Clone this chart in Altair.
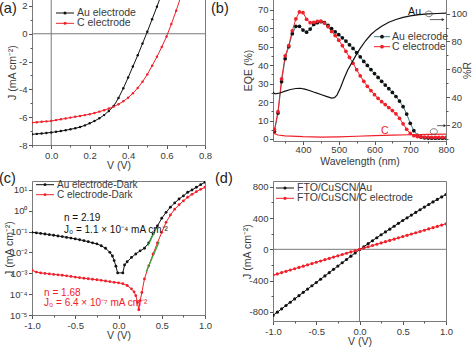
import altair as alt
import pandas as pd

FONT = "Liberation Sans"
INK = "#3a3a3a"
FRAME = "#7a7a7a"
BLACK = "#111111"
RED = "#f0202a"
GREEN = "#2fa83a"
TEAL = "#3d7f8a"

# ---------------- (a) J-V under illumination ----------------
a_v_au = [-0.100, -0.075, -0.050, -0.025, 0.000, 0.025, 0.050, 0.075, 0.100, 0.125,
          0.150, 0.175, 0.200, 0.225, 0.250, 0.275, 0.300, 0.325, 0.350, 0.375,
          0.400, 0.425, 0.450, 0.475, 0.500, 0.525, 0.550, 0.575]
a_j_au = [-7.23, -7.20, -7.17, -7.13, -7.10, -7.05, -7.00, -6.94, -6.87, -6.80,
          -6.71, -6.59, -6.44, -6.28, -6.08, -5.85, -5.55, -5.20, -4.62, -3.92,
          -3.15, -2.35, -1.55, -0.70, 0.15, 1.05, 1.95, 2.90]
a_v_c = [-0.100, -0.075, -0.050, -0.025, 0.000, 0.025, 0.050, 0.075, 0.100, 0.125,
         0.150, 0.175, 0.200, 0.225, 0.250, 0.275, 0.300, 0.325, 0.350, 0.375,
         0.400, 0.425, 0.450, 0.475, 0.500, 0.525, 0.550, 0.575, 0.600, 0.625,
         0.650, 0.675]
a_j_c = [-6.39, -6.36, -6.33, -6.30, -6.27, -6.21, -6.15, -6.09, -6.03, -5.97,
         -5.91, -5.85, -5.79, -5.70, -5.60, -5.50, -5.38, -5.24, -5.07, -4.86,
         -4.60, -4.28, -3.90, -3.45, -2.92, -2.30, -1.65, -0.95, -0.20, 0.70,
         1.65, 2.70]
a_series = ["Au electrode", "C electrode"]

# ---------------- (b) EQE and reflectance ----------------
b_wl = [320, 330, 340, 350, 360, 370, 380, 390, 400, 410, 420, 430, 440, 450, 460,
        470, 480, 490, 500, 510, 520, 530, 540, 550, 560, 570, 580, 590, 600, 610,
        620, 630, 640, 650, 660, 670, 680, 690, 700, 710, 720, 730, 740, 750, 760,
        770, 780, 790, 800]
b_eqe_au = [4, 14, 31, 43.5, 50, 57, 61, 61, 59, 57.8, 59.5, 62, 63, 63.5, 63,
            61.5, 59.8, 58, 56.5, 54.8, 53, 51, 49, 46.8, 44.5, 42, 39.8, 37.6, 35.4, 33.3,
            31.2, 29.2, 27.2, 25.2, 23, 20.5, 17.5, 13.5, 8.5, 4.5, 2, 1, 0.6, 0.5, 0.4,
            0.4, 0.4, 0.4, 0.4]
b_eqe_c = [5, 14.8, 32.5, 45, 50.5, 58.6, 65, 68.8, 68.4, 64.8, 63, 63.2, 63.7, 63.8, 62.8,
           60.8, 58.2, 56, 53.5, 50.5, 47.5, 44.2, 41, 37.5, 34.2, 31.2, 28.5, 26.2, 24, 22,
           20.2, 18.6, 17, 15.4, 13.6, 11.2, 8.2, 5.2, 3, 1.8, 1.3, 1.1, 1.0, 1.0, 0.9,
           0.9, 0.9, 0.9, 0.9]
b_series = ["Au elecrode", "C electrode"]

b_r_wl_au = [316, 322, 335, 350, 365, 380, 392, 405, 420, 435, 450, 465, 480, 488, 495,
             505, 515, 525, 537, 548, 560, 575, 590, 605, 620, 640, 660, 680, 700, 725,
             750, 775, 800]
b_r_au = [43.5, 42.3, 43, 44.3, 45.5, 46.2, 46.4, 45.8, 44.6, 43.2, 41.9, 40.6, 39.3, 39.6, 41.5,
          47, 53.5, 59.5, 65, 70, 75, 80.5, 85, 88.3, 91, 93.8, 95.8, 97.3, 98.4, 99.3,
          99.8, 100.1, 100.3]
b_r_wl_c = [316, 320, 330, 350, 400, 450, 500, 550, 600, 650, 700, 750, 800]
b_r_c = [16.4, 13.8, 12.8, 12.2, 11.6, 11.3, 11.5, 11.9, 12.3, 12.7, 13.0, 13.3, 13.5]

# ---------------- (c) dark J-V, log scale ----------------
c_v_au = [-1.00, -0.95, -0.90, -0.85, -0.80, -0.75, -0.70, -0.65, -0.60, -0.55,
          -0.50, -0.45, -0.40, -0.35, -0.30, -0.25, -0.20, -0.15, -0.10, -0.07,
          -0.05, -0.03, -0.01, 0.05, 0.07, 0.10, 0.15, 0.20, 0.25, 0.30,
          0.35, 0.40, 0.45, 0.50, 0.55, 0.60, 0.65, 0.70, 0.75, 0.80,
          0.85, 0.90, 0.95, 1.00]
c_j_au = [0.093, 0.088, 0.082, 0.077, 0.072, 0.067, 0.062, 0.058, 0.053, 0.049,
          0.045, 0.041, 0.037, 0.033, 0.029, 0.026, 0.021, 0.016, 0.0102, 0.0068,
          0.0041, 0.0022, 0.00105, 0.00105, 0.0025, 0.0036, 0.0058, 0.0085, 0.012, 0.016,
          0.029, 0.078, 0.19, 0.44, 0.85, 1.5, 2.4, 3.7, 5.2, 7.8,
          10, 13.5, 18, 23.4]
c_v_c = [-1.00, -0.95, -0.90, -0.85, -0.80, -0.75, -0.70, -0.65, -0.60, -0.55,
         -0.50, -0.45, -0.40, -0.35, -0.30, -0.25, -0.20, -0.15, -0.10, -0.05,
         0.00, 0.05, 0.10, 0.15, 0.18, 0.20, 0.22, 0.235, 0.25, 0.27,
         0.30, 0.35, 0.40, 0.45, 0.50, 0.55, 0.60, 0.65, 0.70, 0.75,
         0.80, 0.85, 0.90, 0.95, 1.00]
c_j_c = [0.0014, 0.00115, 0.00105, 0.00099, 0.00094, 0.00089, 0.00085, 0.00081, 0.00076, 0.00071,
         0.00066, 0.00062, 0.00058, 0.00055, 0.00052, 0.00049, 0.00046, 0.00043, 0.00040, 0.00037,
         0.00035, 0.00032, 0.00026, 0.00018, 0.00013, 0.000085, 0.00004, 0.0000178, 0.000049, 0.00012,
         0.00054, 0.0023, 0.0085, 0.029, 0.093, 0.28, 0.63, 1.2, 1.95, 3.0,
         4.5, 6.2, 8.3, 10.8, 13.5]
c_series = ["Au electrode-Dark", "C electrode-Dark"]
c_fit_v = [0.34, 0.44, 0.32, 0.47]
c_fit_j = [0.021, 0.16, 0.0012, 0.033]
c_fit_id = ["au", "au", "c", "c"]
c_note_black = ["n = 2.19", "J\u2080 = 1.1 \u00d7 10\u207b\u2074 mA cm\u207b\u00b2"]
c_note_black_v = [-0.63, -0.63]
c_note_black_j = [0.44, 0.12]
c_note_red = ["n = 1.68", "J\u2080 = 6.4 \u00d7 10\u207b\u2077 mA cm\u207b\u00b2"]
c_note_red_v = [-0.86, -0.86]
c_note_red_j = [1.15e-4, 3.8e-5]

# ---------------- (d) FTO/CuSCN contacts ----------------
d_v = [-1.00, -0.95, -0.90, -0.85, -0.80, -0.75, -0.70, -0.65, -0.60, -0.55,
       -0.50, -0.45, -0.40, -0.35, -0.30, -0.25, -0.20, -0.15, -0.10, -0.05,
       0.00, 0.05, 0.10, 0.15, 0.20, 0.25, 0.30, 0.35, 0.40, 0.45,
       0.50, 0.55, 0.60, 0.65, 0.70, 0.75, 0.80, 0.85, 0.90, 0.95, 1.00]
d_j_au = [-845, -803, -761, -718, -676, -634, -592, -550, -508, -466,
          -424, -382, -340, -298, -256, -214, -172, -130, -88, -46,
          -5, 33, 72, 110, 148, 186, 222, 258, 295, 332,
          368, 402, 437, 472, 506, 540, 573, 606, 638, 670, 700]
d_j_c = [-330, -314, -297, -281, -264, -248, -231, -215, -198, -182,
         -165, -149, -132, -116, -99, -83, -66, -50, -33, -17,
         0, 16, 33, 49, 65, 82, 98, 114, 130, 147,
         163, 179, 196, 212, 228, 244, 261, 277, 293, 310, 326]
d_series = ["FTO/CuSCN/Au", "FTO/CuSCN/C electrode"]

J_TITLE = "J (mA cm\u207b\u00b2)"


# ---------------- helpers ----------------
def num_axis(values, test, fmt, title, **kw):
    base = dict(
        values=values, title=title,
        labelExpr=f"({test}) ? replace(format(datum.value, '{fmt}'), '\u2212', '-') : ''",
        tickSize={"condition": {"test": test, "value": 3.5}, "value": 2},
        labelOverlap=False, labelFlush=False, domain=False, grid=False,
        tickColor="#555555", labelFont=FONT, labelFontSize=9.5, labelColor=INK,
        titleFont=FONT, titleFontSize=10.5, titleFontWeight="normal", titleColor=INK,
        labelPadding=1.5,
    )
    base.update(kw)
    return alt.Axis(**base)


def xaxis(values, test, fmt, title, **kw):
    return num_axis(values, test, fmt, title, titleY=15.5, titleBaseline="top", **kw)


def yaxis(values, test, fmt, title, tx, **kw):
    return num_axis(values, test, fmt, title, titleX=tx, titleBaseline="bottom", **kw)


def manual_legend(labels, pt_colors, ln_colors, x0, y0, dy, sym_w, size, tdx, fsize):
    layers = []
    for i, (lab, pc, lc) in enumerate(zip(labels, pt_colors, ln_colors)):
        yy = y0 + i * dy
        one = pd.DataFrame({"t": [lab]})
        layers.append(alt.Chart(one).mark_rule(color=lc, strokeWidth=1).encode(
            x=alt.value(x0), x2=alt.value(x0 + sym_w), y=alt.value(yy)))
        layers.append(alt.Chart(one).mark_circle(color=pc, size=size, opacity=1).encode(
            x=alt.value(x0 + sym_w / 2), y=alt.value(yy)))
        layers.append(alt.Chart(one).mark_text(
            align="left", baseline="middle", font=FONT, fontSize=fsize, color=INK).encode(
            x=alt.value(x0 + sym_w + tdx), y=alt.value(yy), text="t:N"))
    return layers


def panel_label(txt, x, y):
    return alt.Chart(pd.DataFrame({"t": [txt]})).mark_text(
        align="left", baseline="top", font=FONT, fontSize=14.5, color="#222222"
    ).encode(x=alt.value(x), y=alt.value(y), text="t:N")


def long_df(xs_list, ys_list, names):
    rows = []
    for xs, ys, nm in zip(xs_list, ys_list, names):
        for xv, yv in zip(xs, ys):
            rows.append({"x": xv, "y": yv, "s": nm})
    return pd.DataFrame(rows)


def curves(df, xenc, yenc, names, colors, line_colors, size):
    lines = alt.Chart(df).mark_line(strokeWidth=1, clip=True).encode(
        x=xenc, y=yenc,
        stroke=alt.Stroke("s:N", scale=alt.Scale(domain=names, range=line_colors), legend=None),
        order="x:Q",
    )
    pts = alt.Chart(df).mark_circle(size=size, opacity=1, clip=True).encode(
        x=xenc, y=yenc,
        color=alt.Color("s:N", scale=alt.Scale(domain=names, range=colors), legend=None),
    )
    return lines, pts


# ---------------- panel (a) ----------------
xa = alt.X("x:Q", scale=alt.Scale(domain=[-0.1, 0.8], nice=False, zero=False),
           axis=xaxis([-0.1, 0.0, 0.1, 0.2, 0.3, 0.4, 0.5, 0.6, 0.7, 0.8],
                      "abs(round(datum.value*10)) % 2 == 0", ".1f", "V (V)"))
ya = alt.Y("y:Q", scale=alt.Scale(domain=[-8, 2.5], nice=False, zero=False),
           axis=yaxis([-8, -7, -6, -5, -4, -3, -2, -1, 0, 1, 2],
                      "abs(datum.value) % 2 == 0", "d", J_TITLE, -15))
df_a = long_df([a_v_au, a_v_c], [a_j_au, a_j_c], a_series)
zero_a_v = alt.Chart(pd.DataFrame({"x": [0.0]})).mark_rule(color=FRAME, strokeWidth=1).encode(x=xa)
zero_a_h = alt.Chart(pd.DataFrame({"y": [0.0]})).mark_rule(color=FRAME, strokeWidth=1).encode(y=ya)
la, pa = curves(df_a, xa, ya, a_series, [BLACK, RED], [BLACK, RED], 6)
leg_a = manual_legend(a_series, [BLACK, RED], [BLACK, RED], 24, 14, 10.3, 18, 9, 3, 10.5)
chart_a = alt.layer(zero_a_v, zero_a_h, la, pa, *leg_a, panel_label("(a)", -33, 3)).properties(
    width=173, height=146)

# ---------------- panel (b) ----------------
xb = alt.X("x:Q", scale=alt.Scale(domain=[316, 800], nice=False, zero=False),
           axis=xaxis([350, 400, 450, 500, 550, 600, 650, 700, 750, 800],
                      "datum.value % 100 == 0", "d", "Wavelength (nm)", labelPadding=0))
yb = alt.Y("y:Q", scale=alt.Scale(domain=[-1.1, 75.8], nice=False, zero=False),
           axis=yaxis([0, 5, 10, 15, 20, 25, 30, 35, 40, 45, 50, 55, 60, 65, 70],
                      "datum.value % 10 == 0", "d", "EQE (%)", -20))
yr = alt.Y("r:Q", scale=alt.Scale(domain=[8.5, 110.5], nice=False, zero=False),
           axis=num_axis([10, 20, 30, 40, 50, 60, 70, 80, 90, 100],
                         "datum.value % 20 == 0", "d", "%R", orient="right",
                         titleAngle=270, titleX=26, titleBaseline="bottom"))
df_b = long_df([b_wl, b_wl], [b_eqe_au, b_eqe_c], b_series)
lb, pb = curves(df_b, xb, yb, b_series, [BLACK, RED], [TEAL, RED], 14)
eqe_group = alt.layer(lb, pb)

r_au = alt.Chart(pd.DataFrame({"x": b_r_wl_au, "r": b_r_au})).mark_line(
    color=BLACK, strokeWidth=1.2, clip=True).encode(x=xb, y=yr)
r_c = alt.Chart(pd.DataFrame({"x": b_r_wl_c, "r": b_r_c})).mark_line(
    color=RED, strokeWidth=1.2, clip=True).encode(x=xb, y=yr)
txt_au = alt.Chart(pd.DataFrame({"x": [712], "r": [101.2], "t": ["Au"]})).mark_text(
    font=FONT, fontSize=10.5, color=BLACK, baseline="middle").encode(x=xb, y=yr, text="t:N")
txt_c = alt.Chart(pd.DataFrame({"x": [629], "r": [15.9], "t": ["C"]})).mark_text(
    font=FONT, fontSize=10.5, color=RED, baseline="middle").encode(x=xb, y=yr, text="t:N")
ELL = "M-1,0A1,0.8 0 1,1 1,0A1,0.8 0 1,1 -1,0Z"
ells = alt.Chart(pd.DataFrame({"x": [752, 766], "r": [99.8, 15.3]})).mark_point(
    shape=ELL, size=50, filled=False, color="#555555", strokeWidth=0.8, opacity=1).encode(x=xb, y=yr)
arrows = alt.Chart(pd.DataFrame({"x": [755, 775], "x2": [790, 795], "r": [95.7, 19.5]})).mark_rule(
    color="#333333", strokeWidth=0.8).encode(x=xb, x2="x2:Q", y=yr)
heads = alt.Chart(pd.DataFrame({"x": [792, 797], "r": [95.7, 19.5]})).mark_point(
    shape="triangle-right", size=10, filled=True, color="#333333", opacity=1).encode(x=xb, y=yr)
r_group = alt.layer(r_au, r_c, txt_au, txt_c, ells, arrows, heads)
leg_b = manual_legend(b_series, [BLACK, RED], [TEAL, RED], 101, 37.7, 10, 16, 14, 2, 10.5)
chart_b = alt.layer(eqe_group, r_group, *leg_b, panel_label("(b)", -62, 3)).resolve_scale(
    y="independent").properties(width=173, height=142)

# ---------------- panel (c) ----------------
LOGEXPR = ("'10' + (round(log(datum.value)/LN10) < 0 ? '\u207b' : '') + "
           "['\u2070','\u00b9','\u00b2','\u00b3','\u2074','\u2075'][abs(round(log(datum.value)/LN10))]")
xc = alt.X("x:Q", scale=alt.Scale(domain=[-1, 1], nice=False, zero=False),
           axis=xaxis([-1.0, -0.75, -0.5, -0.25, 0.0, 0.25, 0.5, 0.75, 1.0],
                      "abs(round(datum.value*4)) % 2 == 0", ".1f", "V (V)"))
yc = alt.Y("y:Q", scale=alt.Scale(type="log", domain=[1e-5, 27], nice=False),
           axis=alt.Axis(values=[1e-5, 1e-4, 1e-3, 1e-2, 1e-1, 1, 10], labelExpr=LOGEXPR,
                         title=J_TITLE, tickSize=3.5, labelOverlap=False, domain=False, grid=False,
                         tickColor="#555555", labelFont=FONT, labelFontSize=9.5, labelColor=INK,
                         titleFont=FONT, titleFontSize=10.5, titleFontWeight="normal",
                         titleColor=INK, labelPadding=1.5, titleX=-18, titleBaseline="bottom"))
df_c = long_df([c_v_au, c_v_c], [c_j_au, c_j_c], c_series)
lc, pc = curves(df_c, xc, yc, c_series, [BLACK, RED], [BLACK, RED], 8)
fit_c = alt.Chart(pd.DataFrame({"x": c_fit_v, "y": c_fit_j, "g": c_fit_id})).mark_line(
    color=GREEN, strokeWidth=1.2).encode(x=xc, y=yc, detail="g:N")
note_k = alt.Chart(pd.DataFrame({"x": c_note_black_v, "y": c_note_black_j, "t": c_note_black})).mark_text(
    align="left", baseline="middle", font=FONT, fontSize=10, color=BLACK).encode(x=xc, y=yc, text="t:N")
note_r = alt.Chart(pd.DataFrame({"x": c_note_red_v, "y": c_note_red_j, "t": c_note_red})).mark_text(
    align="left", baseline="middle", font=FONT, fontSize=10, color=RED).encode(x=xc, y=yc, text="t:N")
leg_c = manual_legend(c_series, [BLACK, RED], [BLACK, RED], 4, 3.7, 10, 18, 8, 3, 10)
chart_c = alt.layer(lc, pc, fit_c, note_k, note_r, *leg_c, panel_label("(c)", -33, -9)).properties(
    width=173, height=134)

# ---------------- panel (d) ----------------
xd = alt.X("x:Q", scale=alt.Scale(domain=[-1, 1], nice=False, zero=False),
           axis=xaxis([-1.0, -0.75, -0.5, -0.25, 0.0, 0.25, 0.5, 0.75, 1.0],
                      "abs(round(datum.value*4)) % 2 == 0", ".1f", "V (V)"))
yd = alt.Y("y:Q", scale=alt.Scale(domain=[-916, 873], nice=False, zero=False),
           axis=yaxis([-800, -600, -400, -200, 0, 200, 400, 600, 800],
                      "abs(datum.value) % 400 == 0", "d", J_TITLE, -21))
df_d = long_df([d_v, d_v], [d_j_au, d_j_c], d_series)
zero_d_v = alt.Chart(pd.DataFrame({"x": [0.0]})).mark_rule(color=FRAME, strokeWidth=1).encode(x=xd)
zero_d_h = alt.Chart(pd.DataFrame({"y": [0.0]})).mark_rule(color=FRAME, strokeWidth=1).encode(y=yd)
ld, pd_ = curves(df_d, xd, yd, d_series, [BLACK, RED], [BLACK, RED], 10)
leg_d = manual_legend(d_series, [BLACK, RED], [BLACK, RED], 3, 7, 10.3, 18, 10, 3, 10.5)
chart_d = alt.layer(zero_d_v, zero_d_h, ld, pd_, *leg_d, panel_label("(d)", -58, -9)).properties(
    width=173, height=140)

RES = dict(x="independent", y="independent", color="independent", stroke="independent")
chart = alt.concat(chart_a, chart_b, chart_c, chart_d, columns=2,
                   spacing={"row": 36, "column": 68}, bounds="flush").resolve_scale(**RES).properties(
    padding={"left": -2, "top": -2, "right": 0, "bottom": 0}
).configure_view(stroke=FRAME, strokeWidth=1)

chart.save("out.html", embed_options={"renderer": "svg", "actions": False})
